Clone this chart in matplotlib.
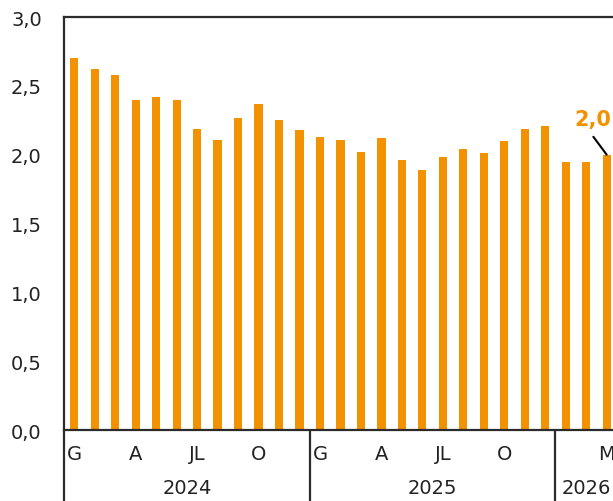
import matplotlib
matplotlib.use("Agg")
import matplotlib.pyplot as plt
import matplotlib.transforms as mtransforms

plt.rcParams['font.family'] = ['DejaVu Sans']

# monthly values, Jan 2024 - Mar 2026
values = [2.70, 2.62, 2.58, 2.40, 2.42, 2.40, 2.19, 2.11, 2.27, 2.37, 2.25, 2.18,
          2.13, 2.11, 2.02, 2.12, 1.96, 1.89, 1.98, 2.04, 2.01, 2.10, 2.19, 2.21,
          1.95, 1.95, 2.00]
month_ticks = [0, 3, 6, 9, 12, 15, 18, 21, 26]
month_labels = ['G', 'A', 'JL', 'O', 'G', 'A', 'JL', 'O', 'M']
years = ['2024', '2025', '2026']
year_centers = [5.5, 17.5, 25.0]
year_breaks = [11.5, 23.5]
yticks = [0.0, 0.5, 1.0, 1.5, 2.0, 2.5, 3.0]

orange = '#F39200'
line_col = '#2b2b2b'
txt_col = '#222222'

fig = plt.figure(figsize=(6.13, 5.02), dpi=100)
ax = fig.add_axes([0.1044, 0.1414, 0.902, 0.8227])

x = list(range(len(values)))
ax.bar(x, values, width=0.4, color=orange, zorder=2)

ax.set_xlim(-0.5, 26.5)
ax.set_ylim(0, 3.0)
ax.set_yticks(yticks)
ax.set_yticklabels([f'{v:.1f}'.replace('.', ',') for v in yticks], fontsize=14, color=txt_col)
ax.tick_params(axis='y', length=0, pad=16)
ax.set_xticks(month_ticks)
ax.set_xticklabels(month_labels, fontsize=14, color=txt_col)
ax.tick_params(axis='x', length=0, pad=10)

for side in ['left', 'top', 'bottom']:
    ax.spines[side].set_color(line_col)
    ax.spines[side].set_linewidth(1.6)
ax.spines['right'].set_visible(False)

# vertical dividers under the axis
trans = mtransforms.blended_transform_factory(ax.transData, ax.transAxes)
for xb in [-0.5] + year_breaks:
    ax.plot([xb, xb], [0, -0.2], transform=trans, color=line_col, lw=1.6,
            clip_on=False, solid_capstyle='butt')

for yr, xc in zip(years, year_centers):
    ax.text(xc, -0.138, yr, transform=trans, ha='center', va='center',
            fontsize=14, color=txt_col)

# label on the latest value
last = values[-1]
ax.annotate('', xy=(x[-1], last), xytext=(25.35, 2.13),
            arrowprops=dict(arrowstyle='-', color='black', lw=1.5,
                            shrinkA=0, shrinkB=0))
ax.text(25.3, 2.26, f'{last:.1f}'.replace('.', ','), ha='center', va='center',
        fontsize=15, fontweight='bold', color=orange)

fig.savefig('out.png', dpi=100)
